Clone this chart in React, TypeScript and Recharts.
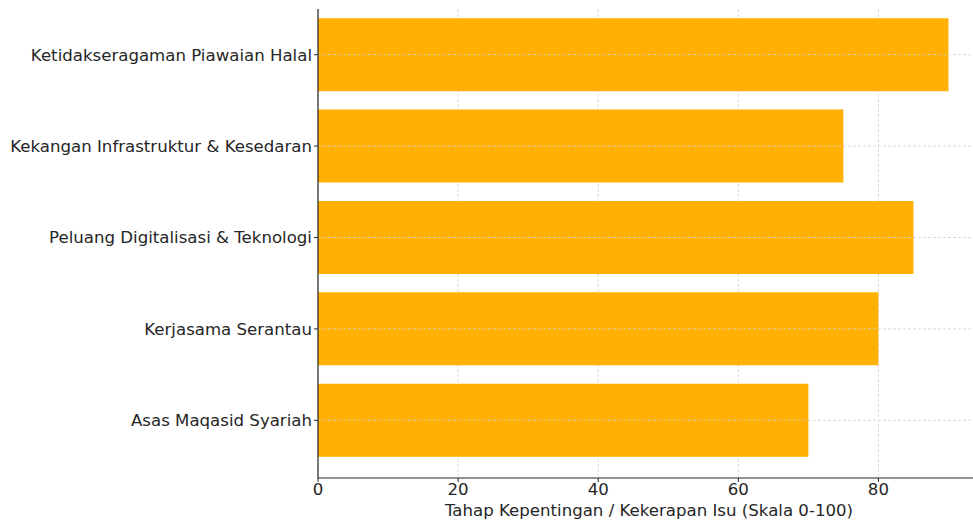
import { BarChart, Bar, XAxis, YAxis, CartesianGrid, ReferenceLine } from "recharts";

const categories = [
  "Ketidakseragaman Piawaian Halal",
  "Kekangan Infrastruktur & Kesedaran",
  "Peluang Digitalisasi & Teknologi",
  "Kerjasama Serantau",
  "Asas Maqasid Syariah",
];
const scores = [90, 75, 85, 80, 70];
const xTicks = [0, 20, 40, 60, 80];

const data = categories.map((name, i) => ({ name, score: scores[i] }));

const FONT = "'DejaVu Sans', sans-serif";
const TEXT = "#262626";
const GRID = "#d0d0d0";

if (typeof document !== "undefined") document.body.style.margin = "0";

export default function App() {
  return (
    <div style={{ width: 973, height: 522, overflow: "hidden", background: "#fff", fontFamily: FONT }}>
      <BarChart
        width={980}
        height={522}
        data={data}
        layout="vertical"
        margin={{ top: 9, right: 0, bottom: 0, left: 0 }}
        barCategoryGap="10%"
      >
        <XAxis
          type="number"
          domain={[0, 94.5]}
          ticks={xTicks}
          height={44}
          tick={{ fill: TEXT, fontSize: 16.6, fontFamily: FONT }}
          tickSize={4}
          tickMargin={1}
          axisLine={{ stroke: "#262626", strokeWidth: 1.2 }}
          tickLine={{ stroke: "#262626" }}
          label={{
            value: "Tahap Kepentingan / Kekerapan Isu (Skala 0-100)",
            position: "insideBottom",
            offset: 6,
            fill: TEXT,
            fontSize: 16.6,
            fontFamily: FONT,
          }}
        />
        <YAxis
          type="category"
          dataKey="name"
          width={318}
          padding={{ top: 0, bottom: 12 }}
          tick={{ fill: TEXT, fontSize: 16.6, fontFamily: FONT }}
          tickSize={4}
          tickMargin={2}
          axisLine={{ stroke: "#262626", strokeWidth: 1.2 }}
          tickLine={{ stroke: "#262626" }}
          interval={0}
        />
        <Bar dataKey="score" fill="#FFB000" isAnimationActive={false} />
        <CartesianGrid stroke={GRID} strokeDasharray="3 2" strokeWidth={0.8} horizontal={false} />
        {categories.map((c) => (
          <ReferenceLine key={c} y={c} stroke={GRID} strokeDasharray="3 2" strokeWidth={0.8} />
        ))}
      </BarChart>
    </div>
  );
}
